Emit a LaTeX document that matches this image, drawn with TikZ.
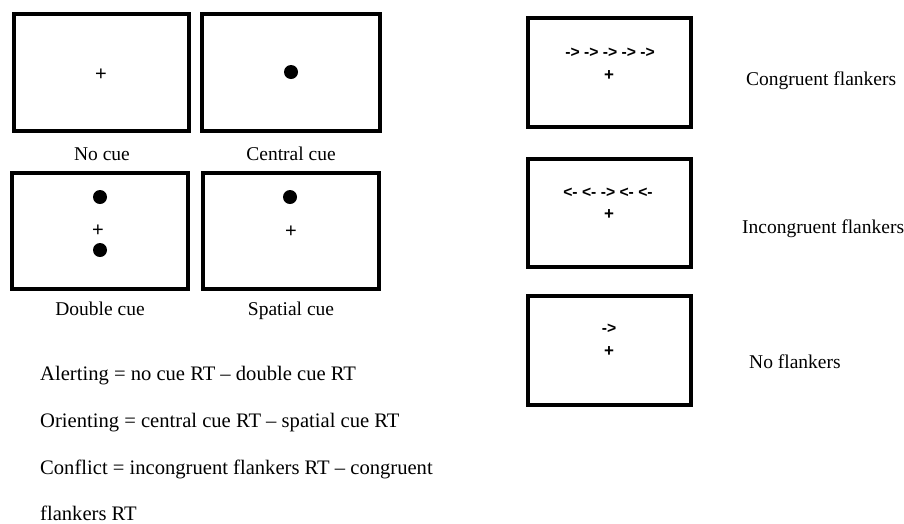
\documentclass[tikz,border=0pt]{standalone}
\usepackage{fontspec}
\setmainfont{Liberation Serif}
\newfontfamily\arialf{Liberation Sans}
\begin{document}
\begin{tikzpicture}[x=1pt,y=-1pt,
  cuebox/.style={draw, line width=3.5pt, rectangle, inner sep=0pt, outer sep=0pt},
  dotc/.style={circle, fill=black, minimum size=14pt, inner sep=0pt},
  plusl/.style={inner sep=0pt, font=\arialf\fontsize{20}{20}\selectfont},
  plusr/.style={inner sep=0pt, font=\arialf\bfseries\fontsize{17}{17}\selectfont},
  arr/.style={inner sep=0pt, font=\arialf\bfseries\fontsize{15.7}{16}\selectfont},
  lbl/.style={inner sep=0pt, anchor=base, font=\fontsize{19.5}{22}\selectfont},
  rlbl/.style={inner sep=0pt, anchor=base west, font=\fontsize{19.5}{22}\selectfont},
  frm/.style={inner sep=0pt, anchor=base west, font=\fontsize{20.6}{24}\selectfont}]
\useasboundingbox (0,0) rectangle (904,523);
% left boxes
\node[cuebox, minimum width=175pt, minimum height=117pt] (b1) at (101.5,72.5) {};
\node[cuebox, minimum width=178pt, minimum height=117pt] (b2) at (291,72.5) {};
\node[cuebox, minimum width=176pt, minimum height=116pt] (b3) at (100,231) {};
\node[cuebox, minimum width=176pt, minimum height=116pt] (b4) at (291,231) {};
\node[plusl] (p1) at (101,75) {+};
\node[dotc] (d2) at (291,72) {};
\node[dotc] (d3a) at (100,197) {};
\node[plusl] (p3) at (98,231) {+};
\node[dotc] (d3b) at (100,250) {};
\node[dotc] (d4) at (290,197) {};
\node[plusl] (p4) at (291,232) {+};
\node[lbl] (l1) at (102,160) {No cue};
\node[lbl] (l2) at (291,160) {Central cue};
\node[lbl] (l3) at (100,315) {Double cue};
\node[lbl] (l4) at (291,315) {Spatial cue};
% formulas
\node[frm] (f1) at (40,380) {Alerting = no cue RT -- double cue RT};
\node[frm] (f2) at (40,427) {Orienting = central cue RT -- spatial cue RT};
\node[frm] (f3) at (40,474) {Conflict = incongruent flankers RT -- congruent};
\node[frm] (f4) at (40,520) {flankers RT};
% right boxes
\node[cuebox, minimum width=163pt, minimum height=109pt] (ba) at (609.5,72.5) {};
\node[cuebox, minimum width=163pt, minimum height=108pt] (bb) at (609.5,213) {};
\node[cuebox, minimum width=163pt, minimum height=109pt] (bc) at (609.5,350.5) {};
\node[arr] (aa) at (610,53) {-{}> -{}> -{}> -{}> -{}>};
\node[plusr] (pa) at (609,76) {+};
\node[arr] (ab) at (608,193) {<{}- <{}- -{}> <{}- <{}-};
\node[plusr] (pb) at (609,215) {+};
\node[arr] (ac) at (609,329) {-{}>};
\node[plusr] (pc) at (609,352) {+};
\node[rlbl] (ra) at (746,85) {Congruent flankers};
\node[rlbl] (rb) at (742,233) {Incongruent flankers};
\node[rlbl] (rc) at (749,368) {No flankers};
\end{tikzpicture}
\end{document}
